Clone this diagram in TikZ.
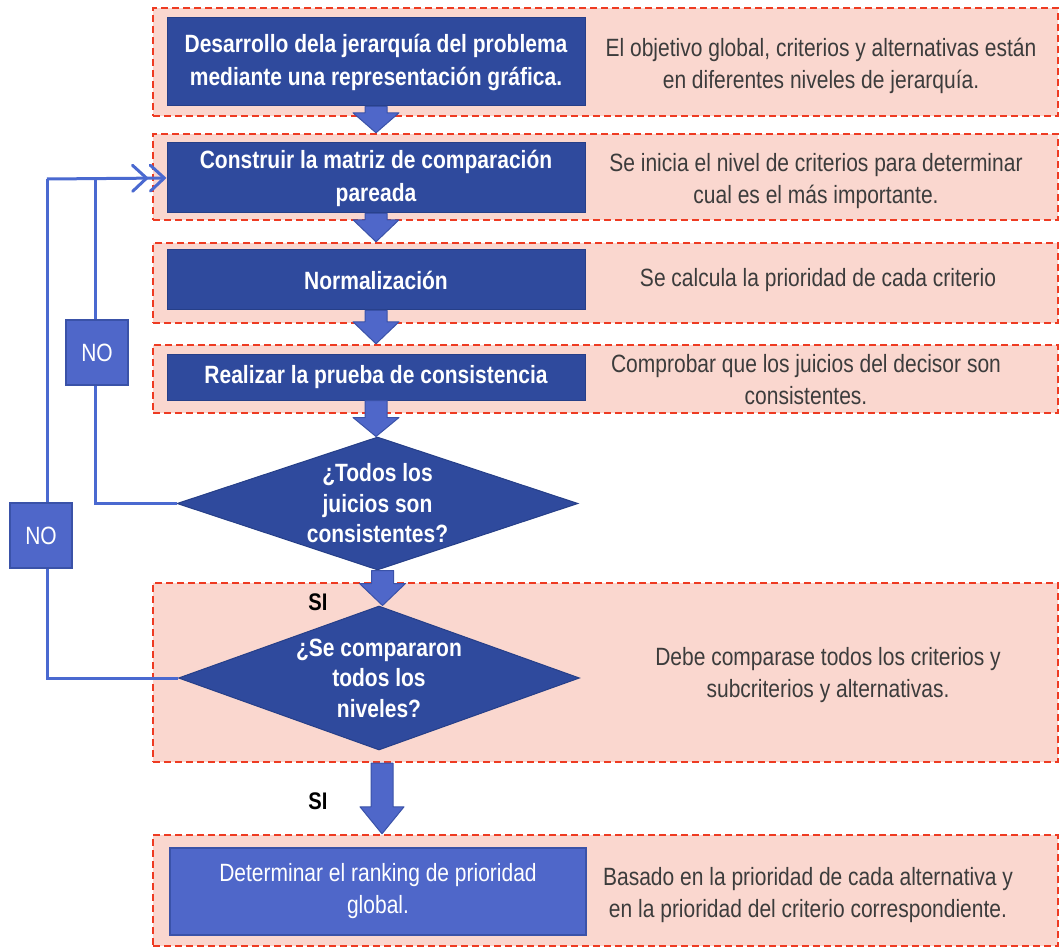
\documentclass[tikz,border=0pt]{standalone}
\usepackage{fontspec}
\setmainfont{Liberation Sans}[FakeStretch=0.84]
\usetikzlibrary{shapes.geometric,calc,arrows.meta}
\definecolor{regionred}{HTML}{EE3B22}
\definecolor{regionfill}{HTML}{FAD7CF}
\definecolor{darkbox}{HTML}{2F4A9D}
\definecolor{darkedge}{HTML}{263F88}
\definecolor{lightbox}{HTML}{4F67C9}
\definecolor{lightedge}{HTML}{3A52A8}
\definecolor{loopblue}{HTML}{4A69D0}
\definecolor{notegray}{HTML}{3C3C3C}
\tikzset{
  region/.style={draw=regionred, fill=regionfill, dash pattern=on 7pt off 4pt, line width=2.4pt, minimum width=905pt, inner sep=0pt},
  stepbox/.style={draw=darkedge, fill=darkbox, line width=1pt, text=white, font=\bfseries\fontsize{25}{33}\selectfont, align=center, minimum width=418pt, inner sep=0pt},
  endbox/.style={draw=lightedge, fill=lightbox, line width=1.5pt, text=white, font=\fontsize{25}{32}\selectfont, align=center, minimum width=416pt, minimum height=87pt, inner sep=0pt},
  decision/.style={diamond, draw=darkedge, fill=darkbox, line width=1pt, minimum width=401pt, inner sep=0pt},
  decisiontext/.style={text=white, font=\bfseries\fontsize{25}{30.5}\selectfont, align=center},
  note/.style={text=notegray, font=\fontsize{25}{32}\selectfont, align=center},
  nobox/.style={draw=lightedge, fill=lightbox, line width=1.5pt, text=white, font=\fontsize{25}{28}\selectfont, minimum width=62pt, minimum height=65pt, inner sep=0pt},
  silabel/.style={font=\bfseries\fontsize{24}{28}\selectfont},
  loopline/.style={draw=loopblue, line width=3pt},
  blockarrow/.style={fill=lightbox, draw=lightedge, line width=1pt, line join=round}
}
% vertical block arrow from #1 to #2, shaft half width #3, head half width #4, head length #5
\newcommand{\downblock}[5]{%
  \path[blockarrow] let \p1=(#1), \p2=(#2) in
    (\x1-#3,\y1) -- (\x1+#3,\y1) -- (\x1+#3,\y2+#5) -- (\x1+#4,\y2+#5)
    -- (\x1,\y2) -- (\x1-#4,\y2+#5) -- (\x1-#3,\y2+#5) -- cycle;}
\begin{document}
\begin{tikzpicture}[x=1pt,y=-1pt]
\useasboundingbox (0,0) rectangle (1060,949);
\node[region, minimum height=108pt] (r1) at (605.5,62) {};
\node[region, minimum height=86pt] (r2) at (605.5,177) {};
\node[region, minimum height=80pt] (r3) at (605.5,283) {};
\node[region, minimum height=68pt] (r4) at (605.5,379) {};
\node[region, minimum height=179pt] (r5) at (605.5,672.5) {};
\node[region, minimum height=111pt] (r6) at (605.5,890.5) {};

\node[stepbox, minimum height=88pt] (b1) at (376,62) {Desarrollo dela jerarquía del problema\\mediante una representación gráfica.};
\node[stepbox, minimum height=70pt] (b2) at (376,178) {Construir la matriz de comparación\\pareada};
\node[stepbox, minimum height=60pt] (b3) at (376,280) {Normalización};
\node[stepbox, minimum height=45pt] (b4) at (376,377.5) {Realizar la prueba de consistencia};
\node[decision, minimum height=133pt] (d1) at (377.5,503.5) {};
\node[decisiontext] at (d1) {¿Todos los\\juicios son\\consistentes?};
\node[decision, minimum height=144pt] (d2) at (379,678) {};
\node[decisiontext] at (d2) {¿Se compararon\\todos los\\niveles?};
\node[endbox] (b5) at (378,891.5) {Determinar el ranking de prioridad\\global.};

\node[note] (n1) at (821,66) {El objetivo global, criterios y alternativas están\\en diferentes niveles de jerarquía.};
\node[note] (n2) at (816,181) {Se inicia el nivel de criterios para determinar\\cual es el más importante.};
\node[note] (n3) at (818,280) {Se calcula la prioridad de cada criterio};
\node[note] (n4) at (806,380) {Comprobar que los juicios del decisor son\\consistentes.};
\node[note] (n5) at (828,675) {Debe comparase todos los criterios y\\subcriterios y alternativas.};
\node[note] (n6) at (808,895) {Basado en la prioridad de cada alternativa y\\en la prioridad del criterio correspondiente.};

\coordinate (k1) at (95,179);
\coordinate (k2) at (47,179);
\draw[loopline] (d1.west) -| (k1);
\draw[loopline] (d2.west) -| (k2);
\draw[loopline, -{Straight Barb[length=14pt,width=26pt,line cap=round]Straight Barb[length=14pt,width=26pt,line cap=round]}] (k2) -- (b2.west);
\node[nobox] (no1) at (97,352.5) {NO};
\node[nobox] (no2) at (41,535.5) {NO};

\downblock{b1.south}{r2.north}{11pt}{23pt}{20pt}
\downblock{b2.south}{r3.north}{11pt}{23pt}{22pt}
\downblock{b3.south}{r4.north}{11pt}{23pt}{22pt}
\downblock{b4.south}{d1.north}{11pt}{23pt}{19pt}
\downblock{$(d1.south)+(5,0)$}{d2.north}{11pt}{23pt}{22pt}
\downblock{$(d2.south |- r5.south)+(3,0)$}{$(d2.south |- r6.north)+(3,0)$}{11pt}{22pt}{27pt}

\node[silabel] (si1) at (318,602) {SI};
\node[silabel] (si2) at (318,801) {SI};
\end{tikzpicture}
\end{document}
